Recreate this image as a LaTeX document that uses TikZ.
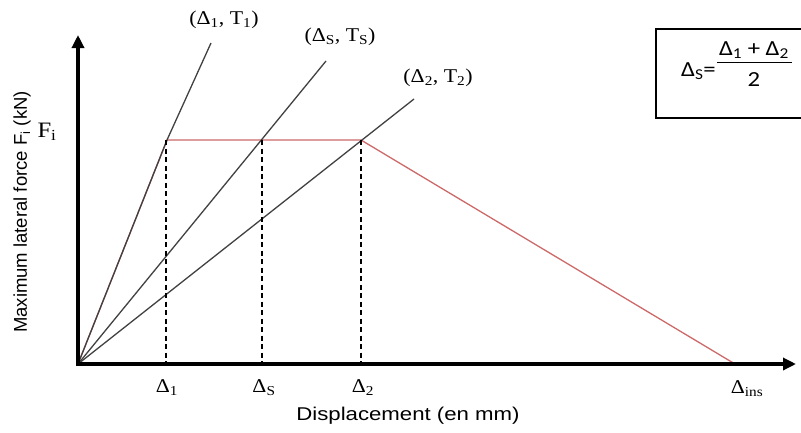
\documentclass[tikz,border=0pt]{standalone}
\usepackage{fontspec}
\setmainfont{Liberation Serif}[FakeStretch=1.12]
\newfontfamily\sansw{Liberation Sans}[FakeStretch=1.2]
\newfontfamily\sansn{Liberation Sans}
\newfontfamily\carl{Carlito}[FakeStretch=1.15]
\usetikzlibrary{arrows.meta}
\definecolor{redl}{RGB}{205,105,105}
\definecolor{grayl}{RGB}{65,65,65}
\tikzset{
  axis/.style={line width=3.6pt,-{Triangle[length=13pt,width=12pt]}},
  redline/.style={redl,line width=1.3pt,line join=round},
  secant/.style={grayl,line width=1.3pt,line join=round},
  dropline/.style={black,line width=1.2pt,dash pattern=on 5pt off 3.5pt},
  serif/.style={font=\fontsize{19.5}{22}\selectfont,inner sep=0pt},
  sanslab/.style={font=\sansw\fontsize{18.5}{22}\selectfont,inner sep=0pt},
  formula/.style={font=\carl\fontsize{21.5}{24}\selectfont,inner sep=0pt},
}
\begin{document}
\begin{tikzpicture}[x=1pt,y=-1pt]
\useasboundingbox (0,0) rectangle (801,432);
% key points
\coordinate (O) at (78,364);
\coordinate (P1) at (167,140);
\coordinate (PS) at (262,140);
\coordinate (P2) at (361,140);
\coordinate (Pins) at (735,364);
\coordinate (E1) at (211,43);
\coordinate (ES) at (326,61);
\coordinate (E2) at (414,99);
\coordinate (A1) at (166,362);
\coordinate (AS) at (262,362);
\coordinate (A2) at (361,362);
\coordinate (Ytip) at (78,35);
\coordinate (Xtip) at (796,364);
% red behaviour curve
\draw[redline] (O) -- (P1) -- (P2) -- (Pins);
% secant lines
\draw[secant] (O) -- (P1) -- (E1);
\draw[secant] (O) -- (ES);
\draw[secant] (O) -- (E2);
% dashed drop lines
\draw[dropline] (166,140) -- (A1);
\draw[dropline] (PS) -- (AS);
\draw[dropline] (P2) -- (A2);
% axes
\draw[axis] ([yshift=-1.8pt]O) -- (Ytip);
\draw[axis] ([xshift=-1.8pt]O) -- (Xtip);
% tick labels
\node[serif] (t1) at (167,388) {Δ\textsubscript{1}};
\node[serif] (tS) at (264,388) {Δ\textsubscript{S}};
\node[serif] (t2) at (363,388) {Δ\textsubscript{2}};
\node[serif] (tins) at (747,389) {Δ\textsubscript{ins}};
% point labels
\node[serif] (l1) at (224,20) {(Δ\textsubscript{1}, T\textsubscript{1})};
\node[serif] (lS) at (340,37) {(Δ\textsubscript{S}, T\textsubscript{S})};
\node[serif] (l2) at (438,78) {(Δ\textsubscript{2}, T\textsubscript{2})};
\node[serif,font=\fontsize{22}{24}\selectfont] (Fi) at (47,132) {F\textsubscript{i}};
% axis titles
\node[sanslab] (xlab) at (408,416) {Displacement (en\,\,mm)};
\node[font=\sansn\fontsize{18.5}{22}\selectfont,inner sep=0pt,rotate=90] (ylab) at (22,212) {Maximum lateral force F\textsubscript{i} (kN)};
% formula box
\draw[line width=1.1pt] (802,29) -- (656,29) -- (656,118) -- (802,118);
\node[formula,anchor=base east] (fl) at (716,76) {Δ\textsubscript{S}=};
\node[formula] (fn) at (754,50) {Δ\textsubscript{1} + Δ\textsubscript{2}};
\node[formula] (fd) at (754,80) {2};
\draw[line width=0.9pt] (717,62) -- (792,62);
\end{tikzpicture}
\end{document}
